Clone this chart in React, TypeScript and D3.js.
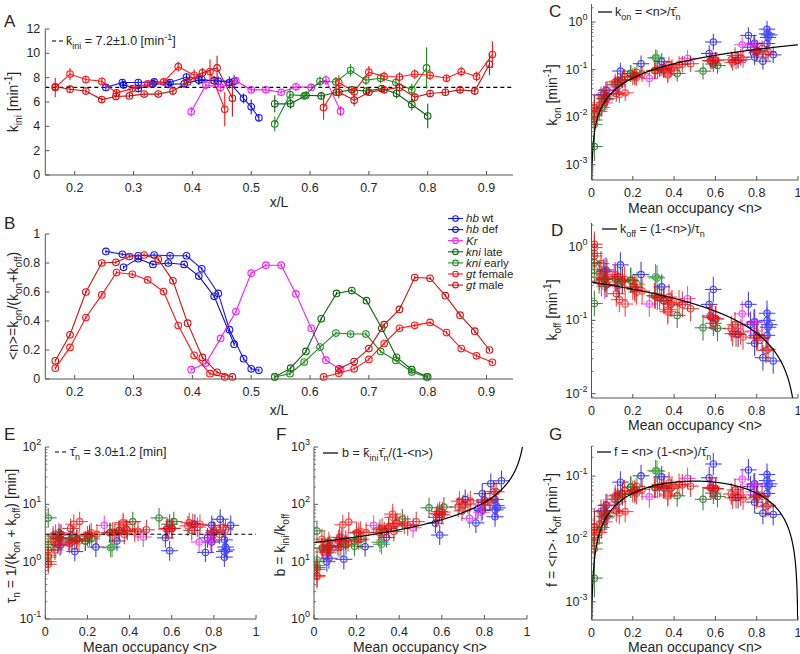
import React from 'react';
import * as d3 from 'd3';

const FONT = '"Liberation Sans", Arial, Helvetica, sans-serif';
const INK = '#262626';
const AX = '#555555';

// columns: x/L, k_ini, k_ini error, <n>, tau_n
const hbWt = [
  [0.253, 7.2, 0.3, 0.88, 4.3],
  [0.281, 7.6, 0.3, 0.86, 1.6],
  [0.308, 7.6, 0.25, 0.85, 1.2],
  [0.335, 7.65, 0.25, 0.855, 1.8],
  [0.362, 7.6, 0.3, 0.85, 2.4],
  [0.39, 8.05, 0.3, 0.85, 1.5],
  [0.416, 7.85, 0.3, 0.76, 1.45],
  [0.444, 7.7, 0.4, 0.59, 1.55],
  [0.463, 7.6, 0.5, 0.34, 2.3],
  [0.487, 6.3, 0.4, 0.14, 1.5],
  [0.5, 5.6, 0.6, 0.07, 1.9],
  [0.513, 4.7, 0.3, 0.06, 2.0],
];
const hbDef = [
  [0.283, 7.4, 0.3, 0.77, 2.6],
  [0.308, 7.1, 0.3, 0.83, 5.5],
  [0.333, 7.5, 0.3, 0.79, 4.3],
  [0.359, 7.45, 0.3, 0.8, 3.2],
  [0.386, 7.5, 0.3, 0.79, 2.2],
  [0.411, 7.8, 0.4, 0.71, 4.5],
  [0.437, 7.75, 0.4, 0.57, 2.6],
  [0.471, 7.7, 0.5, 0.24, 1.8],
];
const kr = [
  [0.398, 5.2, 0.4, 0.064, 2.6],
  [0.423, 7.4, 0.4, 0.11, 2.3],
  [0.448, 7.2, 0.4, 0.28, 4.3],
  [0.474, 7.75, 0.3, 0.465, 2.7],
  [0.5, 7.0, 0.2, 0.73, 2.2],
  [0.525, 7.0, 0.2, 0.785, 3.0],
  [0.551, 6.8, 0.2, 0.785, 2.3],
  [0.576, 7.25, 0.3, 0.587, 3.8],
  [0.602, 7.2, 0.3, 0.35, 3.5],
  [0.627, 7.8, 0.4, 0.13, 2.9],
  [0.652, 5.25, 0.4, 0.064, 3.2],
];
const kniLate = [
  [0.54, 5.85, 0.7, 0.014, 5.8],
  [0.567, 5.85, 0.4, 0.075, 3.0],
  [0.593, 6.55, 0.3, 0.19, 2.3],
  [0.619, 6.5, 0.3, 0.415, 5.0],
  [0.645, 6.8, 0.3, 0.59, 4.5],
  [0.671, 7.0, 0.3, 0.61, 5.0],
  [0.696, 6.9, 0.3, 0.54, 5.8],
  [0.722, 7.1, 0.3, 0.35, 3.5],
  [0.747, 6.7, 0.4, 0.15, 2.5],
  [0.773, 5.8, 0.5, 0.064, 2.6],
  [0.8, 4.85, 1.0, 0.014, 1.6],
];
const kniEarly = [
  [0.54, 4.2, 0.6, 0.014, 2.0],
  [0.566, 6.6, 0.5, 0.037, 2.5],
  [0.59, 6.5, 0.3, 0.117, 2.4],
  [0.617, 7.7, 0.4, 0.22, 2.5],
  [0.644, 7.65, 0.4, 0.317, 1.8],
  [0.669, 8.6, 0.5, 0.31, 1.75],
  [0.695, 7.8, 0.4, 0.31, 3.2],
  [0.72, 7.95, 0.4, 0.19, 2.3],
  [0.746, 7.6, 0.4, 0.128, 2.6],
  [0.773, 7.0, 0.5, 0.048, 3.0],
  [0.798, 8.8, 1.7, 0.014, 1.2],
];
const gtFemaleAnt = [
  [0.167, 7.2, 0.8, 0.075, 2.0],
  [0.192, 8.3, 0.5, 0.218, 3.2],
  [0.219, 7.85, 0.3, 0.424, 3.3],
  [0.246, 7.7, 0.3, 0.58, 3.8],
  [0.271, 6.75, 0.3, 0.734, 4.5],
  [0.298, 7.1, 0.3, 0.722, 4.0],
  [0.324, 7.5, 0.3, 0.683, 4.8],
  [0.351, 7.65, 0.3, 0.603, 3.8],
  [0.376, 8.9, 0.4, 0.369, 4.8],
  [0.403, 8.2, 0.5, 0.163, 5.0],
  [0.43, 8.5, 1.0, 0.037, 2.8],
  [0.455, 5.4, 1.4, 0.014, 1.0],
];
const gtFemalePost = [
  [0.623, 5.55, 1.0, 0.014, 1.3],
  [0.649, 7.6, 0.6, 0.04, 2.2],
  [0.675, 6.85, 0.4, 0.07, 3.0],
  [0.7, 8.45, 0.5, 0.135, 4.5],
  [0.726, 8.1, 0.4, 0.245, 3.0],
  [0.752, 8.05, 0.4, 0.35, 3.3],
  [0.778, 8.3, 0.4, 0.37, 4.5],
  [0.804, 8.2, 0.4, 0.39, 3.5],
  [0.832, 7.95, 0.3, 0.32, 3.3],
  [0.857, 8.5, 0.4, 0.21, 3.0],
  [0.883, 8.1, 0.4, 0.16, 2.3],
  [0.91, 9.9, 1.1, 0.115, 2.1],
];
const gtMaleAnt = [
  [0.167, 7.25, 0.3, 0.126, 2.2],
  [0.192, 7.05, 0.3, 0.305, 3.2],
  [0.219, 6.9, 0.2, 0.6, 3.8],
  [0.246, 6.2, 0.2, 0.8, 3.5],
  [0.27, 6.45, 0.2, 0.805, 3.3],
  [0.293, 6.5, 0.2, 0.845, 4.0],
  [0.318, 6.65, 0.2, 0.855, 3.6],
  [0.342, 6.65, 0.2, 0.826, 3.0],
  [0.367, 6.9, 0.3, 0.677, 4.2],
  [0.392, 7.65, 0.3, 0.385, 3.7],
  [0.417, 8.4, 0.4, 0.149, 2.4],
  [0.442, 8.8, 1.0, 0.046, 1.6],
  [0.468, 6.3, 1.5, 0.014, 0.9],
];
const gtMalePost = [
  [0.649, 6.8, 0.5, 0.07, 2.5],
  [0.675, 6.15, 0.5, 0.12, 3.8],
  [0.7, 6.8, 0.3, 0.21, 2.8],
  [0.726, 7.0, 0.3, 0.375, 3.0],
  [0.752, 7.2, 0.3, 0.48, 3.6],
  [0.778, 6.4, 0.3, 0.7, 4.6],
  [0.804, 6.7, 0.3, 0.695, 3.5],
  [0.83, 6.8, 0.3, 0.575, 3.7],
  [0.855, 7.0, 0.3, 0.44, 3.4],
  [0.88, 6.9, 0.3, 0.33, 3.2],
  [0.905, 9.1, 0.9, 0.2, 2.8],
];

const KINI_MEAN = 7.2;
const TAU_MEAN = 3.0;

const series = [
  { gene: 'hb', rest: ' wt', color: '#1414ff', segs: [hbWt] },
  { gene: 'hb', rest: ' def', color: '#1010c8', segs: [hbDef] },
  { gene: 'Kr', rest: '', color: '#f01ef0', segs: [kr] },
  { gene: 'kni', rest: ' late', color: '#0e640e', segs: [kniLate] },
  { gene: 'kni', rest: ' early', color: '#1e8c1e', segs: [kniEarly] },
  { gene: 'gt', rest: ' female', color: '#ff1414', segs: [gtFemaleAnt, gtFemalePost] },
  { gene: 'gt', rest: ' male', color: '#d01010', segs: [gtMaleAnt, gtMalePost] },
];

function Rich({ s, size }: { s: string; size: number }) {
  const parts: { t: string; k: string }[] = [];
  const re = /([_^*])\{([^}]*)\}/g;
  let last = 0;
  let m: RegExpExecArray | null;
  while ((m = re.exec(s))) {
    if (m.index > last) parts.push({ t: s.slice(last, m.index), k: 'n' });
    parts.push({ t: m[2], k: m[1] });
    last = re.lastIndex;
  }
  if (last < s.length) parts.push({ t: s.slice(last), k: 'n' });
  let cur = 0;
  return (
    <>
      {parts.map((p, i) => {
        const target = p.k === '_' ? size * 0.3 : p.k === '^' ? -size * 0.42 : 0;
        const dy = target - cur;
        cur = target;
        const small = p.k === '_' || p.k === '^';
        return (
          <tspan key={i} dy={dy} fontSize={small ? size * 0.72 : size} fontStyle={p.k === '*' ? 'italic' : undefined}>
            {p.t}
          </tspan>
        );
      })}
    </>
  );
}

function Label({ x, y, s, size = 14, anchor = 'middle', rot = false }: any) {
  return (
    <text
      transform={`translate(${x},${y})${rot ? ' rotate(-90)' : ''}`}
      textAnchor={anchor}
      fontSize={size}
      fill={INK}
      fontFamily={FONT}
    >
      <Rich s={s} size={size} />
    </text>
  );
}

function XAxis({ scale, y, ticks, fmt }: any) {
  const [a, b] = scale.range();
  return (
    <g>
      <line x1={a} x2={b} y1={y} y2={y} stroke={AX} strokeWidth={1} />
      {ticks.map((t: number) => (
        <g key={t}>
          <line x1={scale(t)} x2={scale(t)} y1={y} y2={y - 4} stroke={AX} />
          <text x={scale(t)} y={y + 13} textAnchor="middle" dominantBaseline="central" fontSize={12.5} fill={INK} fontFamily={FONT}>
            {fmt(t)}
          </text>
        </g>
      ))}
    </g>
  );
}

function YAxis({ scale, x, ticks, fmt }: any) {
  const [a, b] = scale.range();
  return (
    <g>
      <line x1={x} x2={x} y1={a} y2={b} stroke={AX} strokeWidth={1} />
      {ticks.map((t: number) => (
        <g key={t}>
          <line x1={x} x2={x + 4} y1={scale(t)} y2={scale(t)} stroke={AX} />
          <text x={x - 5} y={scale(t)} textAnchor="end" dominantBaseline="central" fontSize={12.5} fill={INK} fontFamily={FONT}>
            {fmt(t)}
          </text>
        </g>
      ))}
    </g>
  );
}

function LogYAxis({ scale, x }: any) {
  const [d0, d1] = scale.domain();
  const [a, b] = scale.range();
  const majors: number[] = [];
  const minors: number[] = [];
  for (let e = Math.floor(Math.log10(d0)); e <= Math.ceil(Math.log10(d1)); e++) {
    const v = Math.pow(10, e);
    if (v >= d0 * 0.999 && v <= d1 * 1.001) majors.push(e);
    for (let k = 2; k <= 9; k++) {
      const w = k * v;
      if (w >= d0 && w <= d1) minors.push(w);
    }
  }
  return (
    <g>
      <line x1={x} x2={x} y1={a} y2={b} stroke={AX} strokeWidth={1} />
      {minors.map((w, i) => (
        <line key={'m' + i} x1={x} x2={x + 2} y1={scale(w)} y2={scale(w)} stroke={AX} strokeWidth={0.8} />
      ))}
      {majors.map((e) => (
        <g key={e}>
          <line x1={x} x2={x + 4} y1={scale(Math.pow(10, e))} y2={scale(Math.pow(10, e))} stroke={AX} />
          <text x={x - 4} y={scale(Math.pow(10, e)) + 4} textAnchor="end" fontSize={12.5} fill={INK} fontFamily={FONT}>
            10<tspan dy={-6} fontSize={9}>{e}</tspan>
          </text>
        </g>
      ))}
    </g>
  );
}

// ---------- panels A and B (profiles along x/L) ----------
const xL = d3.scaleLinear().domain([0.15, 0.945]).range([45.3, 513]);
const yA = d3.scaleLinear().domain([0, 12]).range([175, 29]);
const yB = d3.scaleLinear().domain([0, 1]).range([379, 234]);
const xTicks = [0.2, 0.3, 0.4, 0.5, 0.6, 0.7, 0.8, 0.9];
const B_ERR = 0.012;

function ProfilePanel({ ys, col, errOf }: any) {
  const line = d3
    .line<number[]>()
    .x((d) => xL(d[0]))
    .y((d) => ys(d[col]));
  return (
    <g>
      {series.map((s, si) => (
        <g key={si} stroke={s.color} fill="none" strokeWidth={1.1}>
          {s.segs.map((seg, gi) => (
            <g key={gi}>
              <path d={line(seg) || ''} />
              {seg.map((d, i) => {
                const e = errOf(d);
                return (
                  <g key={i}>
                    <line x1={xL(d[0])} x2={xL(d[0])} y1={ys(d[col] - e)} y2={ys(d[col] + e)} />
                    <circle cx={xL(d[0])} cy={ys(d[col])} r={3.3} />
                  </g>
                );
              })}
            </g>
          ))}
        </g>
      ))}
    </g>
  );
}

// ---------- scatter panels over <n> ----------
const N_ERR_H = 0.04;
const N_ERR = 0.008;
const TAU_REL = 0.4;

const pts = (s: any) => s.segs.flat().map((d: number[]) => ({ x: d[0], kini: d[1], kErr: d[2], n: d[3], tau: d[4] }));

const scatterDefs = [
  {
    key: 'C', x0: 591.5, x1: 798, y0: 180, y1: 4, dom: [Math.pow(10, -3.32), Math.pow(10, 0.38)],
    val: (p: any) => p.n / p.tau,
    rel: (p: any) => Math.hypot(N_ERR / p.n, TAU_REL),
    model: (n: number) => n / TAU_MEAN,
  },
  {
    key: 'D', x0: 591.5, x1: 798, y0: 398, y1: 223, dom: [Math.pow(10, -2.06), Math.pow(10, 0.33)],
    val: (p: any) => (1 - p.n) / p.tau,
    rel: (p: any) => Math.hypot(N_ERR / (1 - p.n), TAU_REL),
    model: (n: number) => (1 - n) / TAU_MEAN,
  },
  {
    key: 'E', x0: 45.3, x1: 256, y0: 619, y1: 447, dom: [0.1, 100],
    val: (p: any) => p.tau,
    rel: () => TAU_REL,
    model: null,
  },
  {
    key: 'F', x0: 314, x1: 527, y0: 619, y1: 447, dom: [1, 1000],
    val: (p: any) => (p.kini * p.tau) / (1 - p.n),
    rel: (p: any) => Math.hypot(p.kErr / p.kini, TAU_REL, N_ERR / (1 - p.n)),
    model: (n: number) => (KINI_MEAN * TAU_MEAN) / (1 - n),
  },
  {
    key: 'G', x0: 591.5, x1: 798, y0: 620, y1: 446, dom: [Math.pow(10, -3.29), Math.pow(10, -0.52)],
    val: (p: any) => (p.n * (1 - p.n)) / p.tau,
    rel: (p: any) => Math.hypot(N_ERR / p.n, TAU_REL),
    model: (n: number) => (n * (1 - n)) / TAU_MEAN,
  },
];

function ScatterPanel({ def }: any) {
  const xs = d3.scaleLinear().domain([0, 1]).range([def.x0, def.x1]);
  const ys = d3.scaleLog().domain(def.dom).range([def.y0, def.y1]);
  const nGrid = d3.range(0.0005, 0.9995, 0.0005);
  const curve = def.model
    ? d3
        .line<number>()
        .x((n) => xs(n))
        .y((n) => ys(def.model(n)))(nGrid.filter((n) => def.model(n) > def.dom[0] * 0.5 && def.model(n) < def.dom[1] * 2))
    : null;
  const clipId = 'clip' + def.key;
  return (
    <g>
      <clipPath id={clipId}>
        <rect x={def.x0} y={def.y1} width={def.x1 - def.x0} height={def.y0 - def.y1} />
      </clipPath>
      <g clipPath={`url(#${clipId})`}>
        {series.map((s, si) => (
          <g key={si} stroke={s.color} fill="none" strokeWidth={1.1} opacity={0.78}>
            {pts(s).map((p: any, i: number) => {
              const v = def.val(p);
              const r = def.rel(p);
              const cx = xs(p.n);
              const cy = ys(v);
              return (
                <g key={i}>
                  <line x1={xs(Math.max(0, p.n - N_ERR_H))} x2={xs(p.n + N_ERR_H)} y1={cy} y2={cy} />
                  <line x1={cx} x2={cx} y1={ys(v * Math.exp(-r))} y2={ys(v * Math.exp(r))} />
                  <circle cx={cx} cy={cy} r={3.2} />
                </g>
              );
            })}
          </g>
        ))}
        {curve && <path d={curve} stroke="#000" fill="none" strokeWidth={1.2} />}
        {def.key === 'E' && (
          <line x1={def.x0} x2={def.x1} y1={ys(TAU_MEAN)} y2={ys(TAU_MEAN)} stroke="#000" strokeDasharray="4,3" strokeWidth={1.1} />
        )}
      </g>
      <XAxis scale={xs} y={def.y0} ticks={[0, 0.2, 0.4, 0.6, 0.8, 1]} fmt={(t: number) => String(t)} />
      <LogYAxis scale={ys} x={def.x0} />
    </g>
  );
}

export default function App() {
  return (
    <svg
      width={800}
      height={654}
      viewBox="0 0 800 654"
      style={{ position: 'absolute', left: 0, top: 0, background: '#fff' }}
      fontFamily={FONT}
    >
      <rect width={800} height={654} fill="#fff" />

      {/* A */}
      <line x1={45.3} x2={513} y1={yA(KINI_MEAN)} y2={yA(KINI_MEAN)} stroke="#000" strokeDasharray="4,3" strokeWidth={1.1} />
      <ProfilePanel ys={yA} col={1} errOf={(d: number[]) => d[2]} />
      <XAxis scale={xL} y={175} ticks={xTicks} fmt={(t: number) => t.toFixed(1)} />
      <YAxis scale={yA} x={45.3} ticks={[0, 2, 4, 6, 8, 10, 12]} fmt={String} />
      <line x1={52} x2={63} y1={41} y2={41} stroke="#000" strokeDasharray="4,3" strokeWidth={1.1} />
      <Label x={66} y={45} anchor="start" size={12.5} s={'k\u0304_{ini} = 7.2\u00b11.0 [min^{-1}]'} />
      <Label x={18} y={102} rot s={'k_{ini} [min^{-1}]'} />
      <Label x={279} y={207} s="x/L" />
      <Label x={4} y={27} anchor="start" size={17} s="A" />

      {/* B */}
      <ProfilePanel ys={yB} col={3} errOf={() => B_ERR} />
      <XAxis scale={xL} y={379} ticks={xTicks} fmt={(t: number) => t.toFixed(1)} />
      <YAxis scale={yB} x={45.3} ticks={[0, 0.2, 0.4, 0.6, 0.8, 1]} fmt={(t: number) => (t === 0 || t === 1 ? String(t) : t.toFixed(1))} />
      <Label x={18} y={306} rot s={'<n>=k_{on}/(k_{on}+k_{off})'} />
      <Label x={279} y={415} s="x/L" />
      <Label x={4} y={229} anchor="start" size={17} s="B" />
      <g>
        {series.map((s, i) => {
          const y = 218.5 + i * 11.1;
          return (
            <g key={i}>
              <line x1={448} x2={463} y1={y} y2={y} stroke={s.color} strokeWidth={1.1} />
              <circle cx={455.5} cy={y} r={2.8} stroke={s.color} fill="none" strokeWidth={1.1} />
              <text x={466} y={y + 3.8} fontSize={11.5} fill={INK} fontFamily={FONT}>
                <tspan fontStyle="italic">{s.gene}</tspan>
                {s.rest}
              </text>
            </g>
          );
        })}
      </g>

      {/* C - G */}
      {scatterDefs.map((d) => (
        <ScatterPanel key={d.key} def={d} />
      ))}

      {/* C labels */}
      <line x1={598} x2={612} y1={12} y2={12} stroke="#000" strokeWidth={1.2} />
      <Label x={615} y={16} anchor="start" size={12.5} s={'k_{on} = <n>/\u03c4\u0304_{n}'} />
      <Label x={557} y={95} rot s={'k_{on} [min^{-1}]'} />
      <Label x={695} y={213} s="Mean occupancy <n>" />
      <Label x={549} y={17} anchor="start" size={17} s="C" />

      {/* D labels */}
      <line x1={602} x2={617} y1={229} y2={229} stroke="#000" strokeWidth={1.2} />
      <Label x={620} y={233} anchor="start" size={12.5} s={'k_{off} = (1-<n>)/\u03c4_{n}'} />
      <Label x={557} y={310} rot s={'k_{off} [min^{-1}]'} />
      <Label x={695} y={430} s="Mean occupancy <n>" />
      <Label x={551} y={236} anchor="start" size={17} s="D" />

      {/* E labels */}
      <line x1={55} x2={67} y1={452} y2={452} stroke="#000" strokeDasharray="4,3" strokeWidth={1.1} />
      <Label x={70} y={456} anchor="start" size={12.5} s={'\u03c4\u0304_{n} = 3.0\u00b11.2 [min]'} />
      <Label x={16} y={536} rot s={'\u03c4_{n} = 1/(k_{on} + k_{off}) [min]'} />
      <Label x={150} y={652} s="Mean occupancy <n>" />
      <Label x={4} y={440} anchor="start" size={17} s="E" />

      {/* F labels */}
      <line x1={323} x2={338} y1={453} y2={453} stroke="#000" strokeWidth={1.2} />
      <Label x={342} y={457} anchor="start" size={12.5} s={'b = k\u0304_{ini}\u03c4\u0304_{n}/(1-<n>)'} />
      <Label x={285} y={545} rot s={'b = k_{ini}/k_{off}'} />
      <Label x={420} y={652} s="Mean occupancy <n>" />
      <Label x={276} y={440} anchor="start" size={17} s="F" />

      {/* G labels */}
      <line x1={597} x2={611} y1={452} y2={452} stroke="#000" strokeWidth={1.2} />
      <Label x={614} y={456} anchor="start" size={12.5} s={'f = <n> (1-<n>)/\u03c4\u0304_{n}'} />
      <Label x={557} y={530} rot s={'f = <n>\u00b7 k_{off} [min^{-1}]'} />
      <Label x={695} y={652} s="Mean occupancy <n>" />
      <Label x={549} y={440} anchor="start" size={17} s="G" />
    </svg>
  );
}
